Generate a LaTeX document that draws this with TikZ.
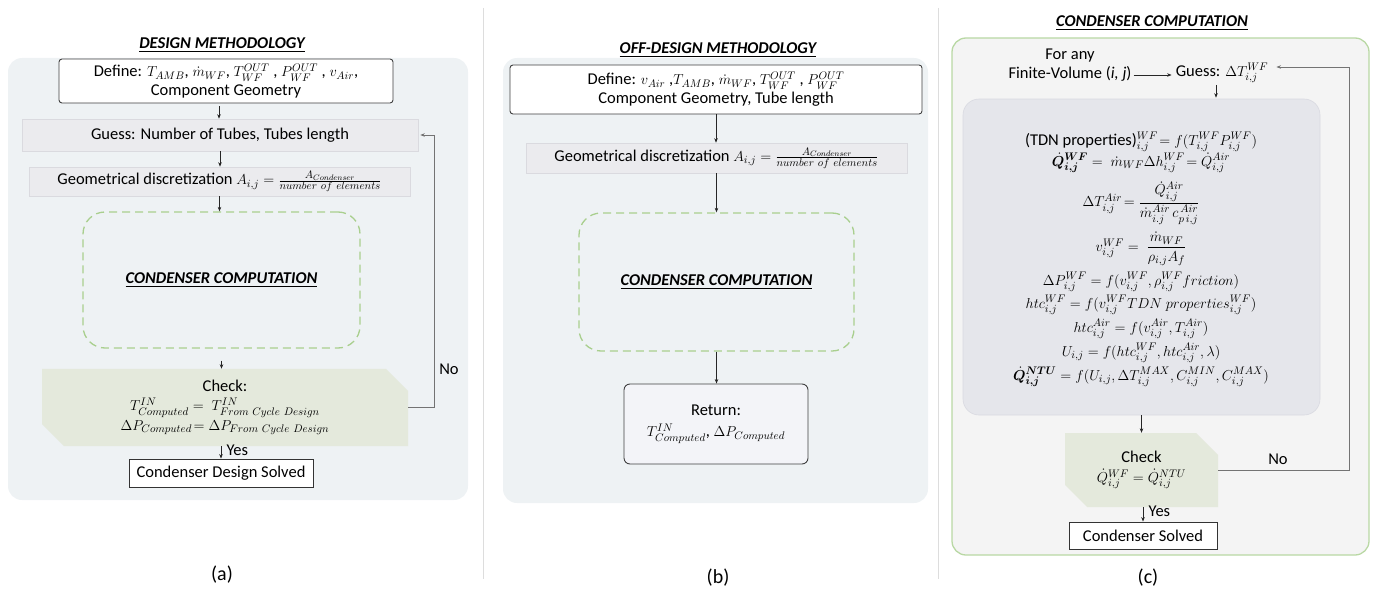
\documentclass[tikz,border=0pt]{standalone}
\usepackage{amsmath,bm}
\usepackage{fontspec}
\setmainfont{Carlito}
\DeclareMathSizes{16.5}{15.5}{11}{8.5}
\usetikzlibrary{arrows.meta,shapes.misc,calc}
\definecolor{panelbg}{HTML}{EEF2F4}
\definecolor{panelc}{HTML}{F4F4F4}
\definecolor{greenline}{HTML}{B9D8A4}
\definecolor{dashgreen}{HTML}{A9CF8E}
\definecolor{boxfill}{HTML}{EBEBEE}
\definecolor{boxline}{HTML}{DADADF}
\definecolor{checkfill}{HTML}{E4E9DC}
\definecolor{innerfill}{HTML}{E5E6EB}
\definecolor{innerline}{HTML}{D9DAE1}
\definecolor{sepcol}{HTML}{DDDDDD}
\definecolor{retfill}{HTML}{F3F4F8}
\tikzset{
  arr/.style={-{Stealth[length=4.5pt,width=3.5pt]}, draw=black!85, line width=0.6pt},
  fb/.style={-{Stealth[length=4.5pt,width=3.5pt]}, draw=black!55, line width=0.9pt},
  panel/.style={rounded corners=14pt, fill=panelbg, inner sep=0pt},
  defbox/.style={draw=black!75, line width=0.9pt, rounded corners=3pt, fill=white, align=center, inner sep=0pt},
  graybox/.style={draw=boxline, fill=boxfill, line width=0.6pt, inner sep=0pt},
  dashbox/.style={draw=dashgreen, dash pattern=on 8pt off 5pt, line width=1.3pt, rounded corners=22pt, inner sep=0pt},
  checkbox/.style={chamfered rectangle, chamfered rectangle corners={north east,south west},
     chamfered rectangle xsep=11pt, chamfered rectangle ysep=11pt, fill=checkfill, align=center, inner sep=0pt},
  titl/.style={font=\fontsize{16.5}{19}\selectfont\bfseries\itshape},
  sublab/.style={font=\fontsize{20}{22}\selectfont},
  eq/.style={inner sep=0pt},
  txt/.style={align=center, inner sep=0pt}
}
\begin{document}
\begin{tikzpicture}[x=1pt,y=-1pt,font=\fontsize{16.5}{19}\selectfont]
\useasboundingbox (0,0) rectangle (1373,594);
% separators
\draw[sepcol, line width=0.8pt] (483,8) -- (483,579);
\draw[sepcol, line width=0.8pt] (938,8) -- (938,579);
% panels
\node[panel, minimum width=460pt, minimum height=442pt] (panA) at (238,279) {};
\node[panel, minimum width=425pt, minimum height=445pt] (panB) at (715.5,280.5) {};
\node[panel, fill=panelc, draw=greenline, line width=1.3pt, minimum width=417pt, minimum height=517pt] (panC) at (1160.5,296.5) {};
% titles
\node[titl] (titA) at (222,45) {\underline{DESIGN METHODOLOGY}};
\node[titl] (titB) at (718,50) {\underline{OFF-DESIGN METHODOLOGY}};
\node[titl] (titC) at (1152,23) {\underline{CONDENSER COMPUTATION}};
% ---------- panel (a)
\node[defbox, minimum width=334pt, minimum height=44pt] (defA) at (226,81)
  {Define: $T_{AMB}$, $\dot m_{WF}$, $T^{OUT}_{WF}$ , $P^{OUT}_{WF}$ , $v_{Air}$,\\Component Geometry};
\node[graybox, minimum width=396pt, minimum height=32pt] (guessA) at (220,135) {Guess: Number of Tubes, Tubes length};
\node[graybox, minimum width=381pt, minimum height=29pt] (geomA) at (219.5,181.5)
  {Geometrical discretization $A_{i,j}=\frac{A_{Condenser}}{number\ of\ elements}$};
\node[dashbox, minimum width=277pt, minimum height=136pt, titl] (ccA) at (221.5,280) {\underline{CONDENSER COMPUTATION}};
\node[checkbox, minimum width=366pt, minimum height=75pt] (checkA) at (225,407.5)
  {Check:\\$T^{IN}_{Computed}=\ T^{IN}_{From\ Cycle\ Design}$\\[1pt]$\Delta P_{Computed}\!=\Delta P_{From\ Cycle\ Design}$};
\node[draw=black!80, line width=0.9pt, fill=white, inner sep=0pt, minimum width=184pt, minimum height=28pt] (solvedA) at (221,473) {Condenser Design Solved};
\draw[arr] ($(defA.south -| guessA.north)+(-1,3)$) -- ($(guessA.north)+(-1,0)$);
\draw[arr] (guessA.south) -- (guessA.south |- geomA.north);
\draw[arr] (geomA.south) -- (geomA.south |- ccA.north);
\draw[arr] ($(ccA.south)+(0,12)$) -- (ccA.south |- checkA.north);
\draw[arr] (checkA.south -| solvedA.north) -- node[right=2pt, pos=0.3] (yesA) {Yes} (solvedA.north);
\coordinate (fbA) at (434,0);
\draw[fb] (checkA.east) -| (fbA |- guessA.east) -- ($(guessA.east)+(2,0)$);
\node (noA) at (449,369) {No};
\node[sublab] (labA) at (222,575) {(a)};
% ---------- panel (b)
\node[defbox, minimum width=412pt, minimum height=49pt] (defB) at (716,89.5)
  {Define: $v_{Air}$ ,$T_{AMB}$, $\dot m_{WF}$, $T^{OUT}_{WF}$ , $P^{OUT}_{WF}$\\Component Geometry, Tube length};
\node[graybox, minimum width=381pt, minimum height=30pt] (geomB) at (716.5,158)
  {Geometrical discretization $A_{i,j}=\frac{A_{Condenser}}{number\ of\ elements}$};
\node[dashbox, minimum width=275pt, minimum height=138pt, titl] (ccB) at (716.5,282) {\underline{CONDENSER COMPUTATION}};
\node[defbox, fill=retfill, rounded corners=6pt, minimum width=184pt, minimum height=80pt] (retB) at (716,424)
  {Return:\\[2pt]$T^{IN}_{Computed}$, $\Delta P_{Computed}$};
\draw[arr] (defB.south) -- (defB.south |- geomB.north);
\draw[arr] (geomB.south) -- (geomB.south |- ccB.north);
\draw[arr] (ccB.south) -- (ccB.south |- retB.north);
\node[sublab] (labB) at (718,578) {(b)};
% ---------- panel (c)
\node[txt] (forC) at (1070,65) {For any\\Finite-Volume (\textit{i, j})};
\node[txt] (guessC) at (1222,73) {Guess: $\Delta T^{WF}_{i,j}$};
\node[draw=innerline, fill=innerfill, rounded corners=16pt, line width=0.6pt, minimum width=357pt, minimum height=316pt] (innerC) at (1141.5,257) {};
\node[eq, anchor=base] (e1) at (1141,145) {(TDN properties)$^{WF}_{i,j}\!=f(T^{WF}_{i,j}P^{WF}_{i,j})$};
\node[eq, anchor=base] (e2) at (1141,166) {$\dot{\bm Q}^{\bm{WF}}_{\bm{i,j}}=\ \dot m_{WF}\Delta h^{WF}_{i,j}\!=\dot Q^{Air}_{i,j}$};
\node[eq] (e3) at (1141,203) {$\Delta T^{Air}_{i,j}\!=\dfrac{\dot Q^{Air}_{i,j}}{\dot m^{Air}_{i.j}\,c^{\,Air}_{p\,i,j}}$};
\node[eq] (e4) at (1141,249) {$v^{WF}_{i,j}=\ \dfrac{\dot m_{WF}}{\rho_{i,j}A_f}$};
\node[eq] (e5) at (1141,282) {$\Delta P^{WF}_{i,j}=f(v^{WF}_{i,j},\rho^{WF}_{i,j} friction)$};
\node[eq] (e6) at (1141,305) {$htc^{WF}_{i,j}=f(v^{WF}_{i,j}TDN\ properties^{WF}_{i,j})$};
\node[eq] (e7) at (1141,329) {$htc^{Air}_{i,j}=f(v^{Air}_{i,j},T^{Air}_{i,j})$};
\node[eq] (e8) at (1141,353) {$U_{i,j}=f(htc^{WF}_{i,j},htc^{Air}_{i,j},\lambda)$};
\node[eq] (e9) at (1141,377) {$\dot{\bm Q}^{\bm{NTU}}_{\bm{i,j}}=f(U_{i,j},\Delta T^{MAX}_{i,j},C^{MIN}_{i,j},C^{MAX}_{i,j})$};
\node[checkbox, minimum width=153pt, minimum height=74pt] (checkC) at (1141.5,470)
  {Check\\[1pt]$\dot Q^{WF}_{i,j}=\dot Q^{NTU}_{i,j}$};
\node[draw=black!80, line width=0.9pt, fill=white, inner sep=0pt, minimum width=148pt, minimum height=27pt] (solvedC) at (1143,535.5) {Condenser Solved};
\draw[arr] ($(forC.east |- guessC.west)+(2,2)$) -- ($(guessC.west)+(-4,2)$);
\draw[arr] ($(guessC.south)+(-6,2)$) -- ($(guessC.south |- innerC.north)+(-6,-1)$);
\draw[arr] (innerC.south) -- (innerC.south |- checkC.north);
\draw[arr] (checkC.south -| solvedC.north) -- node[right=2pt, pos=0.3] (yesC) {Yes} (solvedC.north);
\coordinate (fbC) at (1349,0);
\draw[fb] (checkC.east) -| ($(fbC |- guessC.east)+(0,-6)$) -- ($(guessC.east)+(8,-6)$);
\node (noC) at (1278,459) {No};
\node[sublab] (labC) at (1148,578) {(c)};
\end{tikzpicture}
\end{document}
